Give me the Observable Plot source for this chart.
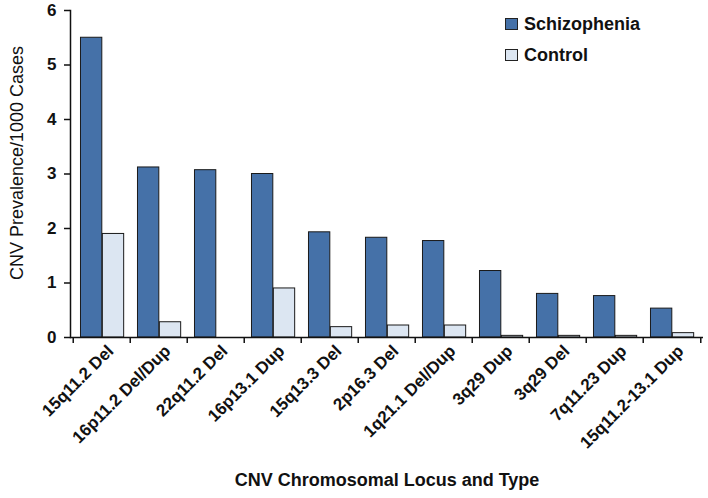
<!DOCTYPE html>
<html><head><meta charset="utf-8">
<script src="https://cdn.jsdelivr.net/npm/d3@7"></script>
<script src="https://cdn.jsdelivr.net/npm/@observablehq/plot@0.6"></script>
<style>
body{margin:0;background:#fff;}
#wrap{position:relative;width:708px;height:498px;font-family:"Liberation Sans",Arial,sans-serif;}
.leg{position:absolute;left:505px;font:bold 18px "Liberation Sans",Arial,sans-serif;display:flex;align-items:center;color:#111;line-height:20px}
.sw{width:11px;height:10px;border:1px solid #222;margin-right:6px}
</style></head>
<body>
<div id="wrap"></div>
<script>
const loci = ["15q11.2 Del","16p11.2 Del/Dup","22q11.2 Del","16p13.1 Dup","15q13.3 Del","2p16.3 Del","1q21.1 Del/Dup","3q29 Dup","3q29 Del","7q11.23 Dup","15q11.2-13.1 Dup"];
const schizophrenia = [5.5,3.12,3.07,3.0,1.93,1.83,1.77,1.22,0.80,0.76,0.53];
const control = [1.9,0.28,0,0.9,0.19,0.22,0.22,0.03,0.03,0.03,0.08];
const yTicks = [0,1,2,3,4,5,6];
const seriesNames = ["Schizophenia","Control"];
const seriesColors = ["#4571a8","#dce6f2"];

const W = 708, H = 498, ML = 70, MR = 5, MT = 10, MB = 161;
const bw = (W - ML - MR) / loci.length;
const rows = loci.map((l,i)=>({locus:l, s:schizophrenia[i], c:control[i]}));
const font = "Liberation Sans, Arial, sans-serif";

const chart = Plot.plot({
  width: W, height: H, marginLeft: ML, marginRight: MR, marginTop: MT, marginBottom: MB,
  style: {fontFamily: font, fontSize: "15px", color: "#111", background: "#fff"},
  x: {domain: loci, padding: 0, axis: null},
  y: {domain: [0,6], axis: null},
  marks: [
    Plot.barY(rows, {x:"locus", y:"s", fill: seriesColors[0], stroke:"#1a1a1a", strokeWidth:1, insetLeft: bw*0.13, insetRight: bw*0.49}),
    Plot.barY(rows.filter(d=>d.c>0), {x:"locus", y:"c", fill: seriesColors[1], stroke:"#1a1a1a", strokeWidth:1, insetLeft: bw*0.51, insetRight: bw*0.11}),
    Plot.axisY({ticks: yTicks, tickSize: 6, tickFormat: d=>String(d), fontWeight:"bold", fontSize: 17, label: null, tickPadding: 8, stroke:"#111", strokeWidth:1.5}),
    Plot.frame({anchor:"left", stroke:"#111", strokeWidth:1.5}),
    Plot.ruleY([0], {stroke:"#111", strokeWidth:1.5}),
    Plot.axisX({ticks: loci, tickSize: 6, text: null, dx: -bw/2, stroke:"#111", strokeWidth:1.5, label:null}),
    Plot.axisX({ticks: [loci[loci.length-1]], tickSize: 6, text: null, dx: bw/2, stroke:"#111", strokeWidth:1.5, label:null}),
    Plot.axisX({tickSize: 0, tickRotate: -45, tickPadding: 6, lineAnchor: "top", textAnchor: "end", dx: 4, fontWeight:"bold", fontSize: 17, label: null}),
    Plot.text(["CNV Prevalence/1000 Cases"], {frameAnchor:"left", textAnchor:"middle", rotate:-90, dx:-53, dy:-11, fontSize:18, fill:"#111"}),
    Plot.text(["CNV Chromosomal Locus and Type"], {frameAnchor:"bottom", dy:148, fontSize:18, fontWeight:"bold", fill:"#111"})
  ]
});
const wrap = document.getElementById("wrap");
wrap.appendChild(chart);
seriesNames.forEach((n,i)=>{
  const d = document.createElement("div");
  d.className = "leg";
  d.style.top = (14 + i*31) + "px";
  d.innerHTML = `<span class="sw" style="background:${seriesColors[i]}"></span>${n}`;
  wrap.appendChild(d);
});
</script>
</body></html>
